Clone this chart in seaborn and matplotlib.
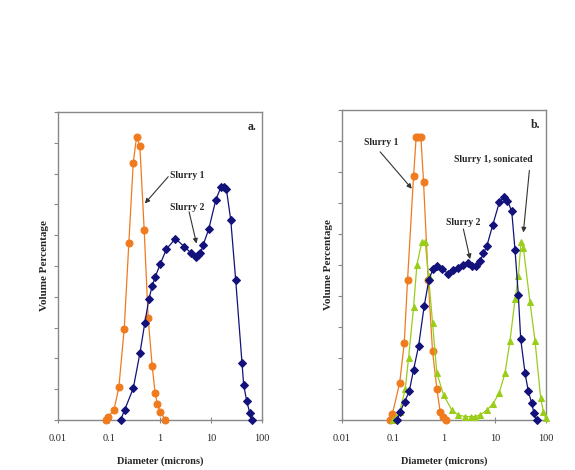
import numpy as np
import pandas as pd
import matplotlib
matplotlib.use("Agg")
import matplotlib.pyplot as plt
import seaborn as sns

# panel a
a_s1_d = [0.087, 0.097, 0.125, 0.156, 0.199, 0.245, 0.299, 0.347, 0.403, 0.49,
          0.586, 0.703, 0.80, 0.89, 1.02, 1.26]
a_s1_v = [0.0, 0.11, 0.32, 1.06, 2.97, 5.75, 8.35, 9.19, 8.89, 6.16,
          3.30, 1.75, 0.89, 0.51, 0.27, 0.0]

a_s2_d = [0.169, 0.202, 0.299, 0.403, 0.505, 0.604, 0.703, 0.80, 1.007, 1.34,
          2.01, 3.02, 4.02, 5.02, 5.58, 6.21, 7.0, 9.04, 12.4, 15.5,
          17.8, 20.0, 24.4, 30.5, 40.6, 43.7, 50.1, 57.3, 64.6]
a_s2_v = [0.0, 0.32, 1.03, 2.16, 3.16, 3.92, 4.35, 4.63, 5.06, 5.55,
          5.89, 5.62, 5.43, 5.28, 5.35, 5.41, 5.68, 6.20, 7.14, 7.55,
          7.57, 7.50, 6.49, 4.54, 1.84, 1.14, 0.62, 0.24, 0.0]

# panel b
b_s1_d = [0.086, 0.097, 0.135, 0.166, 0.193, 0.253, 0.285, 0.312, 0.352, 0.397,
          0.49, 0.596, 0.724, 0.841, 0.948, 1.09]
b_s1_v = [0.0, 0.19, 1.19, 2.47, 4.52, 7.87, 9.14, 9.14, 9.14, 7.68,
          4.52, 2.22, 1.01, 0.27, 0.11, 0.0]

b_s2_d = [0.119, 0.139, 0.169, 0.208, 0.253, 0.317, 0.409, 0.505, 0.604, 0.724,
          0.907, 1.22, 1.53, 1.92, 2.41, 3.02, 3.61, 4.20, 5.10, 5.93,
          6.89, 9.03, 12.2, 15.1, 17.5, 21.3, 24.7, 28.7, 31.9, 38.8,
          45.1, 52.5, 58.2, 65.6]
b_s2_v = [0.0, 0.27, 0.59, 0.92, 1.62, 2.38, 3.68, 4.52, 4.86, 4.97,
          4.86, 4.72, 4.83, 4.90, 5.0, 5.06, 4.97, 4.97, 5.14, 5.38,
          5.60, 6.29, 7.03, 7.19, 7.08, 6.73, 5.48, 4.02, 2.62, 1.51,
          0.92, 0.54, 0.22, 0.0]

b_son_d = [0.1, 0.135, 0.174, 0.202, 0.253, 0.294, 0.368, 0.428, 0.497, 0.596,
           0.724, 0.98, 1.42, 1.92, 2.60, 3.35, 4.07, 5.10, 6.89, 9.03,
           12.0, 15.7, 19.7, 24.7, 28.7, 32.4, 36.0, 48.6, 61.0, 78.7,
           88.7, 98.4]
b_son_v = [0.0, 0.27, 1.0, 2.0, 3.64, 5.0, 5.75, 5.75, 4.65, 3.14,
           1.51, 0.81, 0.32, 0.16, 0.11, 0.11, 0.11, 0.16, 0.32, 0.51,
           0.86, 1.51, 2.56, 3.89, 4.65, 5.75, 5.54, 3.80, 2.54, 0.70,
           0.27, 0.05]

x_ticks = [0.01, 0.1, 1, 10, 100]
x_labels = ["0.01", "0.1", "1", "10", "100"]

ORANGE = "#f07a1e"
NAVY = "#12127a"
GREEN = "#9acd1a"

sns.set_style("white")
plt.rcParams["font.family"] = ["Liberation Serif", "DejaVu Serif"]

fig = plt.figure(figsize=(5.75, 4.7), dpi=100)
ax_a = fig.add_axes([58 / 575, 50 / 470, 204 / 575, 308 / 470])
ax_b = fig.add_axes([342 / 575, 50 / 470, 204 / 575, 310 / 470])


def draw(ax, d, v, color, marker, ms):
    df = pd.DataFrame({"d": d, "v": v})
    sns.lineplot(data=df, x="d", y="v", ax=ax, color=color, marker=marker,
                 markersize=ms, markeredgecolor=color, linewidth=0.9,
                 sort=False, estimator=None, clip_on=False, zorder=3)


def style(ax, letter):
    ax.set_xscale("log")
    ax.set_xlim(0.01, 100)
    ax.set_ylim(0, 10)
    ax.set_xticks(x_ticks)
    ax.set_xticklabels(x_labels, fontsize=7.5)
    ax.xaxis.set_minor_locator(matplotlib.ticker.NullLocator())
    ax.set_yticks(np.arange(0, 11, 1))
    ax.set_yticklabels([])
    ax.tick_params(axis="y", direction="out", length=3, width=0.8,
                   color="#888888", left=True)
    ax.tick_params(axis="x", direction="inout", length=4, width=0.8,
                   color="#888888", bottom=True, pad=8)
    for sp in ax.spines.values():
        sp.set_color("#888888")
        sp.set_linewidth(1.0)
    ax.set_xlabel("Diameter (microns)", fontsize=7.5, fontweight="bold",
                  labelpad=10)
    ax.set_ylabel("Volume Percentage", fontsize=8, fontweight="bold",
                  labelpad=0)
    ax.text(0.97, 0.95, letter, transform=ax.transAxes, ha="right",
            va="center", fontsize=8.5, fontweight="bold")


draw(ax_a, a_s1_d, a_s1_v, ORANGE, "o", 5)
draw(ax_a, a_s2_d, a_s2_v, NAVY, "D", 4.5)
style(ax_a, "a.")

arrow = dict(arrowstyle="-|>", color="#333333", lw=0.8, mutation_scale=7,
             shrinkA=0, shrinkB=0)
ax_a.annotate("", xy=(0.505, 7.03), xytext=(1.45, 7.9), arrowprops=arrow)
ax_a.text(1.6, 7.95, "Slurry 1", fontsize=7, fontweight="bold", va="center")
ax_a.annotate("", xy=(5.2, 5.73), xytext=(3.72, 6.76), arrowprops=arrow)
ax_a.text(1.6, 6.9, "Slurry 2", fontsize=7, fontweight="bold", va="center")

draw(ax_b, b_s1_d, b_s1_v, ORANGE, "o", 5)
draw(ax_b, b_son_d, b_son_v, GREEN, "^", 5)
draw(ax_b, b_s2_d, b_s2_v, NAVY, "D", 4.5)
style(ax_b, "b.")

ax_b.annotate("", xy=(0.234, 7.46), xytext=(0.056, 8.65), arrowprops=arrow)
ax_b.text(0.058, 8.95, "Slurry 1", fontsize=7, fontweight="bold",
          ha="center", va="center")
ax_b.annotate("", xy=(3.25, 5.19), xytext=(2.4, 6.16), arrowprops=arrow)
ax_b.text(2.34, 6.38, "Slurry 2", fontsize=7, fontweight="bold",
          ha="center", va="center")
ax_b.annotate("", xy=(36.0, 6.05), xytext=(47.2, 8.05), arrowprops=arrow)
ax_b.text(9.3, 8.4, "Slurry 1, sonicated", fontsize=7, fontweight="bold",
          ha="center", va="center")

fig.savefig("out.png", dpi=100)
